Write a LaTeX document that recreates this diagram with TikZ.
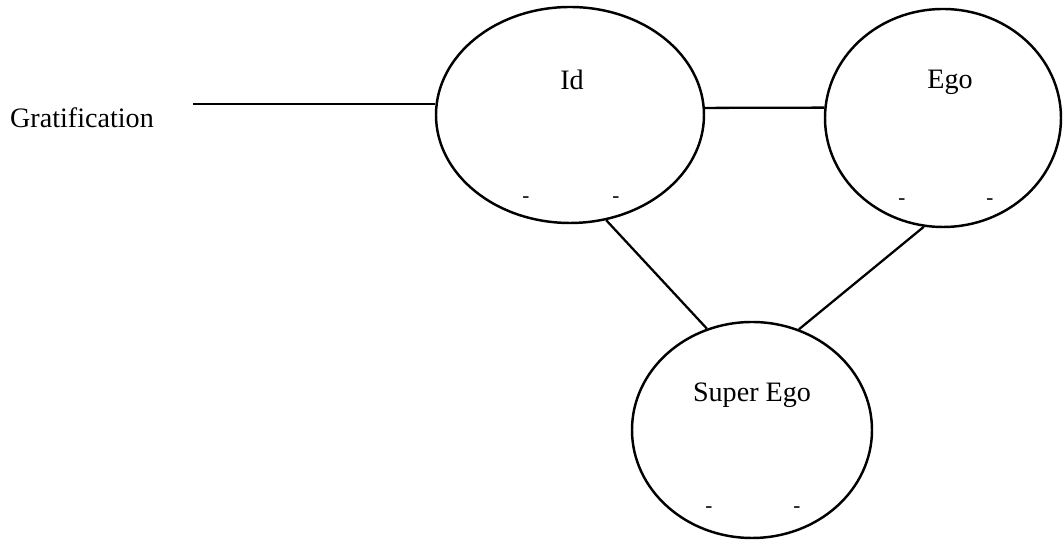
\documentclass[tikz,border=0pt]{standalone}
\usepackage{fontspec}
\setmainfont{Liberation Serif}
\usepackage{tikz}
\usetikzlibrary{shapes.geometric}

\begin{document}
\begin{tikzpicture}[psyche/.style={ellipse,draw,line width=1.4pt,inner sep=0pt},
  word/.style={font=\fontsize{16}{19}\selectfont},
  link/.style={line width=1.3pt}]
\useasboundingbox (0,0) rectangle (21.26,10.8);
\node [psyche,minimum width=5.36cm,minimum height=4.32cm] (id) at (11.4,8.5) {};
\node [psyche,minimum width=4.72cm,minimum height=4.36cm] (ego) at (18.86,8.44) {};
\node [psyche,minimum width=4.8cm,minimum height=4.32cm] (superego) at (15.04,2.2) {};
\node [word] (idtext) at (11.44,9.2) {Id};
\node [word] (egotext) at (19.0,9.16) {Ego};
\node [word] (superegotext) at (15.04,2.9) {Super Ego};
\node [word] (grat) at (1.64,8.44) {Gratification};
\coordinate (gratstart) at (3.86,8.72);
\draw [link] (gratstart) -- (id.west |- gratstart);
\draw [link] (id.3) -- (ego.175);
\draw [link] (id.289) -- (superego.114);
\draw [link] (ego.260) -- (superego.65);
  \foreach \px/\py/\n in {10.52/6.8/1,12.32/6.8/2,18.04/6.76/3,19.8/6.76/4,14.18/0.6/5,15.94/0.6/6}
  {  \node [font=\fontsize{12}{14}\selectfont] (mark\n) at (\px,\py) {-};}
\end{tikzpicture}
\end{document}
